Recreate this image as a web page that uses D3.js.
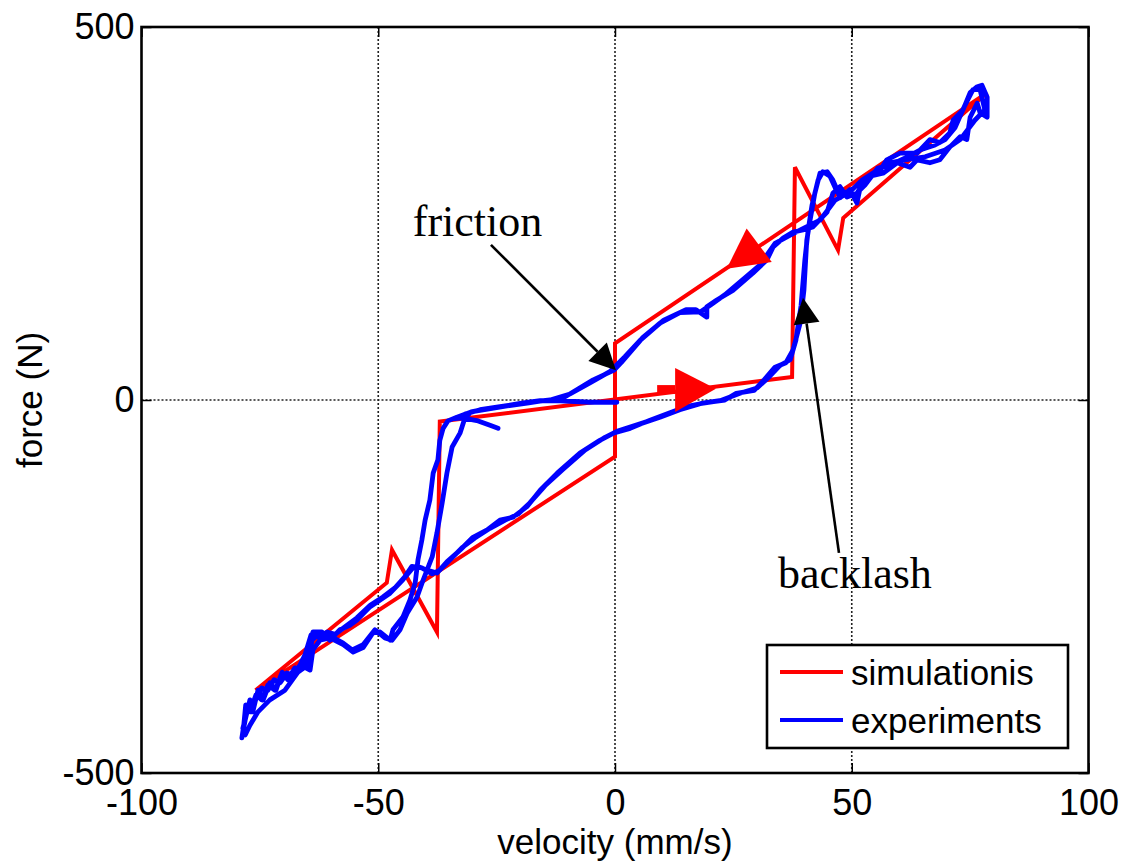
<!DOCTYPE html>
<meta charset="utf-8">
<head>
<style>
body { margin: 0; background: #fff; }
.axis text { font: 36px "Liberation Sans", Arial, sans-serif; fill: #000; }
.axis line { stroke: #000; stroke-width: 1.5; }
.axis path { display: none; }
.grid line { stroke: #222; stroke-width: 1.6; stroke-dasharray: 2,2; }
.label { font: 35px "Liberation Sans", Arial, sans-serif; fill: #000; }
.note { font: 44px "Liberation Serif", "Times New Roman", serif; fill: #000; }
.legend text { font: 35px "Liberation Sans", Arial, sans-serif; fill: #000; }
</style>
</head>
<body>
<script src="https://d3js.org/d3.v7.min.js"></script>
<script>

// ticks
var xTicks = [-100, -50, 0, 50, 100];
var yTicks = [-500, 0, 500];

// simulation loop (velocity mm/s, force N)
var simulation = [[-75.9,-389],[-48.2,-245],[-47.1,-201],[-37.6,-311],[-37.0,-29],
  [37.4,31],[38.0,312],[47.1,201],[48.2,244],[78.6,412],[0,76],[0,-76],[-75.9,-389]];

var expDown1 = [[0.4,-3],[-5.3,-3],[-11.6,-1],[-15.8,-1],[-19.4,-4],[-23.2,-8],[-26.4,-11],
  [-30.4,-16],[-33.4,-23],[-35.3,-28],[-36.3,-38],[-37.0,-54],[-37.4,-80],[-38.4,-98],
  [-39.1,-134],[-40.1,-161],[-40.8,-188],[-41.6,-214],[-42.2,-245],[-43.3,-268],[-44.8,-291],
  [-46.9,-308],[-47.5,-322],[-49.6,-311],[-51.1,-312],[-53.2,-332],[-55.3,-338],[-57.4,-328],
  [-60.2,-319],[-62.3,-322],[-63.8,-335],[-64.4,-362],[-66.5,-355],[-68.6,-375],[-70.3,-365],
  [-71.8,-389],[-73.3,-382],[-74.6,-402],[-75.8,-395],[-77.1,-418],[-78.0,-409],[-78.4,-436],
  [-78.8,-453]];
var expUp1 = [[-78.1,-429],[-77.1,-402],[-76.5,-418],[-75.4,-389],[-74.3,-402],[-72.9,-379],
  [-71.6,-389],[-70.3,-365],[-69.1,-375],[-67.6,-359],[-65.9,-358],[-64.8,-335],[-63.8,-311],
  [-61.9,-311],[-60.2,-322],[-58.1,-308],[-56.0,-302],[-54.5,-295],[-52.8,-284],[-51.7,-277],
  [-49.6,-268],[-47.5,-259],[-44.8,-241],[-42.7,-225],[-41.2,-224],[-39.7,-228],[-37.6,-232],
  [-35.5,-217],[-32.7,-201],[-30.0,-184],[-27.0,-174],[-24.3,-161],[-21.5,-157],[-18.6,-143],
  [-15.8,-121],[-12.2,-98],[-7.4,-71],[-3.2,-54],[-0.2,-44],[3.2,-38],[7.4,-27],[11.6,-17],
  [15.0,-9],[18.8,-4],[23.2,0],[25.6,9],[29.4,13],[31.5,27],[33.8,44],[36.1,50],[37.6,67],
  [39.1,103],[39.9,147],[40.5,214],[41.2,241],[42.2,277],[43.3,304],[44.8,306],[46.0,295],
  [46.9,282],[47.5,271],[49.6,282],[51.1,264],[51.7,282],[53.2,295],[56.0,308],[57.4,322],
  [60.2,331],[63.8,331],[66.5,349],[68.6,345],[70.7,358],[71.4,375],[73.5,389],[75.0,412],
  [76.5,420],[77.5,422]];
var expDown2 = [[78.6,406],[78.6,379],[77.1,385],[76.5,398],[75.0,379],[74.3,349],[72.9,353],
  [70.7,339],[68.6,322],[66.5,318],[63.8,322],[62.3,312],[59.6,318],[56.6,304],[53.2,299],
  [51.1,277],[49.0,272],[47.5,286],[46.0,277],[44.8,252],[41.8,232],[39.7,228],[37.6,225],
  [35.5,217],[33.4,205],[32.1,188],[29.1,170],[24.9,147],[21.5,134],[19.4,125],[19.4,111],
  [17.1,121],[15.0,121],[10.3,107],[5.9,84],[1.3,50],[-0.2,40],[-4.6,27],[-9.3,9],[-11.4,1],
  [-15.2,-1],[-18.2,-4],[-22.8,-8],[-30.4,-16],[-31.7,-24],[-32.7,-44],[-34.4,-63],[-35.5,-98],
  [-36.5,-138],[-37.6,-178],[-38.6,-210],[-40.5,-241],[-41.8,-264],[-43.9,-286],[-45.4,-308],
  [-47.1,-322],[-48.6,-319],[-50.7,-308],[-53.2,-328],[-55.5,-335],[-57.4,-326],[-60.2,-316],
  [-62.7,-314],[-64.0,-322],[-64.8,-355],[-67.0,-365],[-69.7,-389],[-72.9,-402],[-75.4,-418],
  [-77.1,-436],[-78.1,-449]];
var expUp2 = [[-78.6,-440],[-77.7,-418],[-76.7,-409],[-75.6,-398],[-74.6,-386],[-73.3,-389],
  [-72.0,-375],[-70.7,-379],[-69.3,-366],[-67.6,-369],[-66.5,-355],[-65.5,-342],[-64.2,-315],
  [-62.7,-318],[-60.8,-311],[-59.1,-314],[-57.0,-304],[-54.5,-292],[-51.7,-275],[-49.0,-264],
  [-46.5,-252],[-44.4,-237],[-42.9,-223],[-40.8,-225],[-38.6,-233],[-37.0,-228],[-34.8,-214],
  [-32.3,-198],[-29.6,-185],[-26.4,-172],[-23.2,-161],[-20.5,-153],[-18.0,-138],[-14.8,-115],
  [-11.2,-94],[-6.3,-67],[-2.1,-50],[0.4,-42],[5.3,-32],[9.5,-23],[13.7,-13],[18.0,-5],
  [22.2,-1],[26.4,9],[30.0,16],[32.7,32],[34.8,46],[37.0,54],[38.2,80],[39.3,127],[40.1,188],
  [40.8,228],[41.6,261],[42.9,295],[43.9,306],[45.4,300],[46.7,282],[48.6,275],[50.7,275],
  [52.8,288],[55.5,311],[58.1,315],[61.2,324],[64.4,335],[67.6,342],[69.7,349],[71.8,365],
  [73.9,395],[75.6,416],[77.1,416]];
var expDown3 = [[78.1,389],[76.0,375],[72.9,349],[69.7,335],[65.5,326],[61.2,322],[58.1,318],
  [54.9,306],[52.2,295],[49.6,279],[46.5,268],[43.3,241],[40.1,231],[37.0,221],[33.8,210],
  [30.6,181],[27.5,164],[23.2,141],[20.1,127],[18.0,118],[13.7,117],[9.5,103],[5.3,80],
  [2.1,58],[-1.1,38],[-5.3,23],[-9.5,8],[-13.7,0],[-18.0,-3],[-24.3,-9],[-28.5,-13],
  [-31.7,-19],[-33.8,-25],[-32.3,-24],[-28.9,-28],[-26.4,-34],[-24.7,-38]];

var experiment = [].concat(expDown1, expUp1, expDown2, expUp2, expDown3);

// red direction arrows on the simulation loop
var simArrowUpper = [[27.8,230],[23.6,176],[33.1,185]];
var simArrowLower = [[12.7,43],[12.7,-16],[21.3,15]];
var simArrowStem = [[8.9,8],[12.7,8],[12.7,20],[8.9,20]];

// black callouts: [tail, tip]
var frictionArrow = [[-26.2,208],[0.2,40]];
var backlashArrow = [[47.3,-205],[39.7,137]];
var frictionLabel = [-42.7,220];
var backlashLabel = [34.4,-252];

var margin = {top: 27, right: 38.5, bottom: 90, left: 141.5},
    width = 1127 - margin.left - margin.right,
    height = 863 - margin.top - margin.bottom;

var x = d3.scaleLinear().domain([-100, 100]).range([0, width]);
var y = d3.scaleLinear().domain([-500, 500]).range([height, 0]);

var svg = d3.select("body").append("svg")
    .attr("width", 1127)
    .attr("height", 863)
    .style("display", "block")
  .append("g")
    .attr("transform", "translate(" + margin.left + "," + margin.top + ")");

// dotted grid
var grid = svg.append("g").attr("class", "grid");
grid.selectAll(".gx").data([-50, 0, 50]).enter().append("line")
    .attr("x1", d => x(d)).attr("x2", d => x(d))
    .attr("y1", 0).attr("y2", height);
grid.selectAll(".gy").data([0]).enter().append("line")
    .attr("x1", 0).attr("x2", width)
    .attr("y1", d => y(d)).attr("y2", d => y(d));

var fmt = d => String(d);

svg.append("g")
    .attr("class", "axis")
    .attr("transform", "translate(0," + height + ")")
    .call(d3.axisBottom(x).tickValues(xTicks).tickSize(-10).tickPadding(16).tickFormat(fmt));
svg.append("g")
    .attr("class", "axis")
    .call(d3.axisLeft(y).tickValues(yTicks).tickSize(-10).tickPadding(7).tickFormat(fmt));
svg.append("g")
    .attr("class", "axis")
    .call(d3.axisTop(x).tickValues(xTicks).tickSize(-10).tickFormat(""));
svg.append("g")
    .attr("class", "axis")
    .attr("transform", "translate(" + width + ",0)")
    .call(d3.axisRight(y).tickValues(yTicks).tickSize(-10).tickFormat(""));

var line = d3.line().x(d => x(d[0])).y(d => y(d[1]));

svg.append("path")
    .datum(simulation)
    .attr("d", line)
    .attr("fill", "none")
    .attr("stroke", "#ff0000")
    .attr("stroke-width", 4)
    .attr("stroke-linejoin", "miter");

svg.append("path")
    .datum(experiment)
    .attr("d", line)
    .attr("fill", "none")
    .attr("stroke", "#0000ff")
    .attr("stroke-width", 4.8)
    .attr("stroke-linejoin", "round")
    .attr("stroke-linecap", "round");

// red arrows
svg.selectAll(".simArrow")
    .data([simArrowUpper, simArrowLower, simArrowStem])
  .enter().append("path")
    .attr("d", d => line(d) + "Z")
    .attr("fill", "#ff0000");

// box
svg.append("rect")
    .attr("width", width)
    .attr("height", height)
    .attr("fill", "none")
    .attr("stroke", "#000")
    .attr("stroke-width", 2.6);

// black callout arrows
function callout(a) {
  var x0 = x(a[0][0]), y0 = y(a[0][1]), x1 = x(a[1][0]), y1 = y(a[1][1]);
  var dx = x1 - x0, dy = y1 - y0, L = Math.sqrt(dx * dx + dy * dy);
  var ux = dx / L, uy = dy / L, hl = 26, hw = 13;
  var bx = x1 - ux * hl, by = y1 - uy * hl;
  svg.append("line")
      .attr("x1", x0).attr("y1", y0).attr("x2", bx).attr("y2", by)
      .attr("stroke", "#000").attr("stroke-width", 2.6);
  svg.append("path")
      .attr("d", "M" + x1 + "," + y1 + "L" + (bx - uy * hw) + "," + (by + ux * hw) +
                 "L" + (bx + uy * hw) + "," + (by - ux * hw) + "Z")
      .attr("fill", "#000");
}
callout(frictionArrow);
callout(backlashArrow);

svg.append("text").attr("class", "note")
    .attr("x", x(frictionLabel[0])).attr("y", y(frictionLabel[1]))
    .text("friction");
svg.append("text").attr("class", "note")
    .attr("x", x(backlashLabel[0])).attr("y", y(backlashLabel[1]))
    .text("backlash");

// axis labels
svg.append("text").attr("class", "label")
    .attr("x", width / 2).attr("y", height + 81)
    .attr("text-anchor", "middle")
    .text("velocity (mm/s)");
svg.append("text").attr("class", "label")
    .attr("transform", "translate(" + (-100) + "," + (height / 2) + ") rotate(-90)")
    .attr("text-anchor", "middle")
    .text("force (N)");

// legend
var legend = svg.append("g").attr("class", "legend")
    .attr("transform", "translate(" + (767 - margin.left) + "," + (645 - margin.top) + ")");
legend.append("rect")
    .attr("width", 301).attr("height", 103)
    .attr("fill", "#fff").attr("stroke", "#000").attr("stroke-width", 2.6);
var entries = [{name: "simulationis", color: "#ff0000"}, {name: "experiments", color: "#0000ff"}];
var item = legend.selectAll(".item").data(entries).enter().append("g")
    .attr("transform", (d, i) => "translate(0," + (27 + i * 48) + ")");
item.append("line")
    .attr("x1", 13).attr("x2", 76)
    .attr("stroke", d => d.color).attr("stroke-width", 4);
item.append("text")
    .attr("x", 84).attr("dy", "0.36em")
    .text(d => d.name);

</script>
</body>
